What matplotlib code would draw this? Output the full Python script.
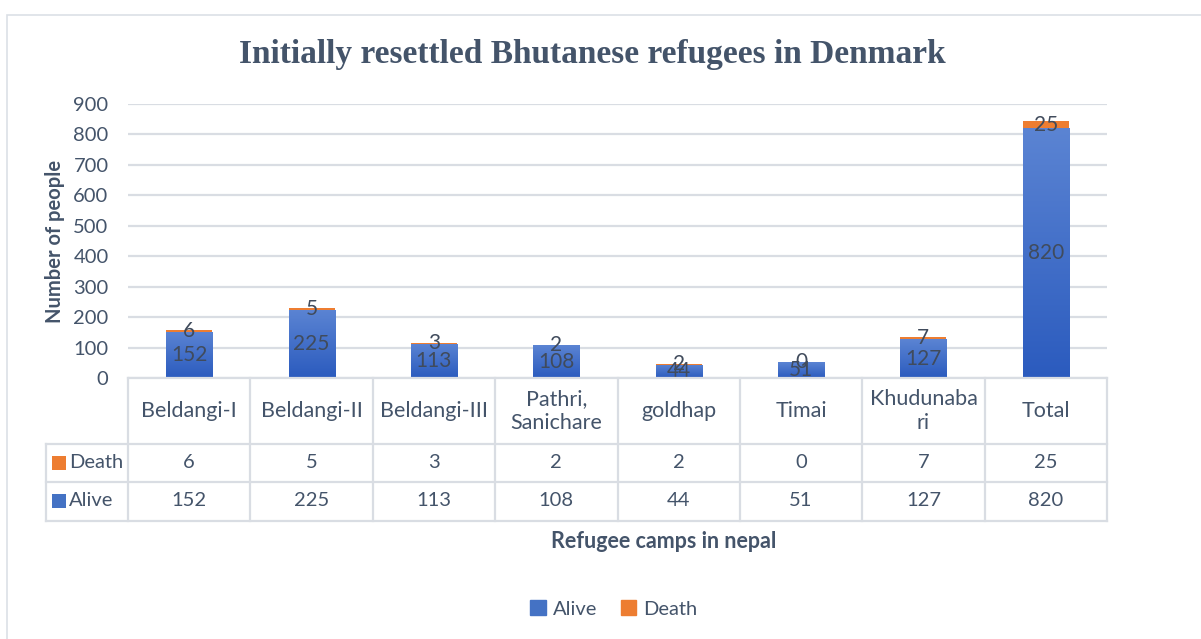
import matplotlib.pyplot as plt
import matplotlib.patches as mpatches
import numpy as np

plt.rcParams['font.family'] = ['Lato', 'DejaVu Sans']

# Data
CAMPS = ['Beldangi-I', 'Beldangi-II', 'Beldangi-III', 'Pathri,\nSanichare',
         'goldhap', 'Timai', 'Khudunaba\nri', 'Total']
ALIVE = [152, 225, 113, 108, 44, 51, 127, 820]
DEATH = [6, 5, 3, 2, 2, 0, 7, 25]
Y_TICKS = [0, 100, 200, 300, 400, 500, 600, 700, 800, 900]

TEXT = '#44546A'
LABEL = '#404B5C'
GRID = '#D9DDE3'
ORANGE = '#ED7D31'
BLUE_TOP = np.array([0x5B, 0x84, 0xD3]) / 255
BLUE_BOT = np.array([0x2B, 0x5B, 0xBE]) / 255

W, H = 1201, 639
fig = plt.figure(figsize=(W / 100, H / 100), dpi=100)


def px_rect(x0, y0, x1, y1):
    """Pixel box (top-left origin) to figure fraction rect."""
    return [x0 / W, 1 - y1 / H, (x1 - x0) / W, (y1 - y0) / H]


# outer frame
fig.patches.append(mpatches.Rectangle((7 / W, -0.01), 1.0, 1 - 15 / H + 0.01,
                                      transform=fig.transFigure, fill=False,
                                      edgecolor='#DCE0E6', linewidth=1.2))

ax = fig.add_axes(px_rect(128, 104, 1107, 378))
n = len(CAMPS)
x = np.arange(n)
bw = 0.376

ax.set_xlim(-0.5, n - 0.5)
ax.set_ylim(0, 900)
ax.set_yticks(Y_TICKS)
ax.set_xticks([])
ax.tick_params(axis='y', length=0, labelsize=14.5, labelcolor=TEXT, pad=14)
for s in ax.spines.values():
    s.set_visible(False)
ax.grid(axis='y', color=GRID, linewidth=1.6)
ax.set_axisbelow(True)

# gradient for alive bars
grad = np.linspace(0, 1, 256)[:, None]
grad_img = BLUE_BOT[None, None, :] * (1 - grad[:, :, None]) + BLUE_TOP[None, None, :] * grad[:, :, None]

alive_bars = ax.bar(x, ALIVE, width=bw, color=BLUE_BOT, zorder=2)
for b in alive_bars:
    xb, yb = b.get_x(), b.get_y()
    h = b.get_height()
    if h <= 0:
        continue
    im = ax.imshow(grad_img, extent=(xb, xb + bw, yb, yb + h), origin='lower',
                   aspect='auto', zorder=2.5, interpolation='bilinear')
    im.set_clip_path(b)
death_bars = ax.bar(x, DEATH, width=bw, bottom=ALIVE, color=ORANGE, zorder=3)
ax.set_xlim(-0.5, n - 0.5)
ax.set_ylim(0, 900)

for i in range(n):
    ax.text(x[i], ALIVE[i] / 2, str(ALIVE[i]), ha='center', va='center',
            fontsize=15, color=LABEL, zorder=5)
    ax.text(x[i], ALIVE[i] + DEATH[i] / 2, str(DEATH[i]), ha='center', va='center',
            fontsize=15, color=LABEL, zorder=5)

ax.set_ylabel('Number of people', fontsize=14.5, fontweight='bold', color=TEXT)
ax.yaxis.set_label_coords(-0.064, 0.5)

# data table below the plot
tax = fig.add_axes(px_rect(46, 378, 1107, 521))
left = -0.5 - (128 - 46) / ((1107 - 128) / n)
tax.set_xlim(left, n - 0.5)
tax.set_ylim(521, 378)
tax.axis('off')
row_tops = [378, 444, 482, 521]
lc = dict(color=GRID, linewidth=1.6, clip_on=False)
tax.plot([-0.5, n - 0.5], [378, 378], **lc)
for yy in row_tops[1:]:
    tax.plot([left, n - 0.5], [yy, yy], **lc)
for k in range(n + 1):
    tax.plot([k - 0.5, k - 0.5], [378, 521], **lc)
tax.plot([left, left], [444, 521], **lc)

for i, name in enumerate(CAMPS):
    tax.text(i, 411, name, ha='center', va='center', fontsize=15.5, color=TEXT,
             linespacing=1.2)
    tax.text(i, 463, str(DEATH[i]), ha='center', va='center', fontsize=14.5, color=TEXT)
    tax.text(i, 501, str(ALIVE[i]), ha='center', va='center', fontsize=14.5, color=TEXT)

cell_w = (1107 - 128) / n
sq = 14 / cell_w
for yy, c, lab in [(463, ORANGE, 'Death'), (501, '#4472C4', 'Alive')]:
    tax.add_patch(mpatches.Rectangle((left + 6 / cell_w, yy - 7), sq, 14,
                                     facecolor=c, edgecolor='none', clip_on=False))
    tax.text(left + 23 / cell_w, yy, lab, ha='left', va='center', fontsize=14.5, color=TEXT)

fig.text(664 / W, 1 - 541 / H, 'Refugee camps in nepal', ha='center', va='center',
         fontsize=15.5, fontweight='bold', color=TEXT)

fig.text(592 / W, 1 - 55 / H, 'Initially resettled Bhutanese refugees in Denmark',
         ha='center', va='center', fontsize=24, fontweight='bold', color=TEXT,
         family='Liberation Serif')

handles = [mpatches.Patch(color='#4472C4', label='Alive'),
           mpatches.Patch(color=ORANGE, label='Death')]
fig.legend(handles=handles, loc='center', bbox_to_anchor=(614 / W, 1 - 609 / H),
           ncol=2, frameon=False, fontsize=14.5, handlelength=0.75, handleheight=0.75,
           handletextpad=0.35, columnspacing=1.2, labelcolor=TEXT)

fig.savefig('out.png', dpi=100)
